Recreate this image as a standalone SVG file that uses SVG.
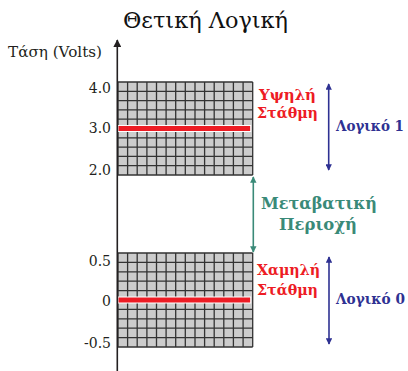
<svg xmlns="http://www.w3.org/2000/svg" width="408" height="371" viewBox="0 0 408 371">
<defs>
<style>
text{font-family:"DejaVu Serif",serif}
.lbl{font-size:14px;fill:#231f20}
.red{font-size:14.5px;font-weight:bold;fill:#ed1c24}
.blue{font-size:14px;font-weight:bold;fill:#2e3192}
.green{font-size:16px;font-weight:bold;fill:#3a8a78}
.grid{fill:#cccccc}
.gl{stroke:#333;stroke-width:1.3;fill:none}
.lvl{fill:#ed1c24;stroke:#fff;stroke-width:1}
</style>
<marker id="ab" viewBox="0 0 10 10" refX="9" refY="5" markerWidth="4" markerHeight="4" orient="auto-start-reverse"><path d="M0,0 L10,5 L0,10 z" fill="#2e3192"/></marker>
<marker id="ag" viewBox="0 0 10 10" refX="9" refY="5" markerWidth="4" markerHeight="4" orient="auto-start-reverse"><path d="M0,0 L10,5 L0,10 z" fill="#3a8a78"/></marker>
<marker id="ak" viewBox="0 0 10 10" refX="9" refY="5" markerWidth="5" markerHeight="5" orient="auto"><path d="M0,0 L10,5 L0,10 z" fill="#231f20"/></marker>
</defs>
<text x="123" y="28" font-size="22" fill="#111" textLength="165" lengthAdjust="spacingAndGlyphs">Θετική Λογική</text>
<text x="8" y="57" class="lbl" font-size="15" textLength="94" lengthAdjust="spacingAndGlyphs">Τάση (Volts)</text>
<g id="highGrid">
<rect class="grid" x="118" y="82" width="134.7" height="93"/>
<path class="gl" d="M118,82V175M127.6,82V175M137.2,82V175M146.9,82V175M156.5,82V175M166.1,82V175M175.7,82V175M185.3,82V175M195,82V175M204.6,82V175M214.2,82V175M223.8,82V175M233.4,82V175M243.1,82V175M252.7,82V175M118,82H252.7M118,91.3H252.7M118,100.6H252.7M118,109.9H252.7M118,119.2H252.7M118,137.8H252.7M118,147.1H252.7M118,156.4H252.7M118,165.7H252.7M118,175H252.7"/>
<rect class="lvl" x="118" y="125.5" width="132.7" height="6"/>
</g>
<g id="lowGrid">
<rect class="grid" x="118" y="253" width="134.7" height="94"/>
<path class="gl" d="M118,253V347M127.6,253V347M137.2,253V347M146.9,253V347M156.5,253V347M166.1,253V347M175.7,253V347M185.3,253V347M195,253V347M204.6,253V347M214.2,253V347M223.8,253V347M233.4,253V347M243.1,253V347M252.7,253V347M118,253H252.7M118,262.4H252.7M118,271.8H252.7M118,281.2H252.7M118,290.6H252.7M118,309.4H252.7M118,318.8H252.7M118,328.2H252.7M118,337.6H252.7M118,347H252.7"/>
<rect class="lvl" x="118" y="297" width="132.7" height="6"/>
</g>
<g id="axis">
<line x1="117.3" y1="371" x2="117.3" y2="40" stroke="#231f20" stroke-width="1.6" marker-end="url(#ak)"/>
<text class="lbl" x="111" y="93" text-anchor="end">4.0</text>
<text class="lbl" x="111" y="133" text-anchor="end">3.0</text>
<text class="lbl" x="111" y="175" text-anchor="end">2.0</text>
<text class="lbl" x="111" y="266" text-anchor="end">0.5</text>
<text class="lbl" x="111" y="306" text-anchor="end">0</text>
<text class="lbl" x="111" y="348" text-anchor="end">-0.5</text>
</g>
<g id="connectors">
<line x1="328.7" y1="84" x2="328.7" y2="170" stroke="#2e3192" stroke-width="1.6" marker-start="url(#ab)" marker-end="url(#ab)"/>
<line x1="253.3" y1="177" x2="253.3" y2="252" stroke="#3a8a78" stroke-width="1.6" marker-start="url(#ag)" marker-end="url(#ag)"/>
<line x1="329" y1="257" x2="329" y2="344" stroke="#2e3192" stroke-width="1.6" marker-start="url(#ab)" marker-end="url(#ab)"/>
</g>
<g id="highLabel"><text class="red" x="259" y="100" textLength="57" lengthAdjust="spacingAndGlyphs">Υψηλή</text><text class="red" x="257" y="117.5" textLength="61" lengthAdjust="spacingAndGlyphs">Στάθμη</text></g>
<g id="logic1"><text class="blue" x="336" y="131" textLength="68" lengthAdjust="spacingAndGlyphs">Λογικό 1</text></g>
<g id="transition"><text class="green" x="261" y="209" textLength="116" lengthAdjust="spacingAndGlyphs">Μεταβατική</text><text class="green" x="279" y="230" textLength="78" lengthAdjust="spacingAndGlyphs">Περιοχή</text></g>
<g id="lowLabel"><text class="red" x="257" y="275" textLength="63" lengthAdjust="spacingAndGlyphs">Χαμηλή</text><text class="red" x="257" y="295" textLength="61" lengthAdjust="spacingAndGlyphs">Στάθμη</text></g>
<g id="logic0"><text class="blue" x="336" y="304" textLength="69" lengthAdjust="spacingAndGlyphs">Λογικό 0</text></g>
</svg>
